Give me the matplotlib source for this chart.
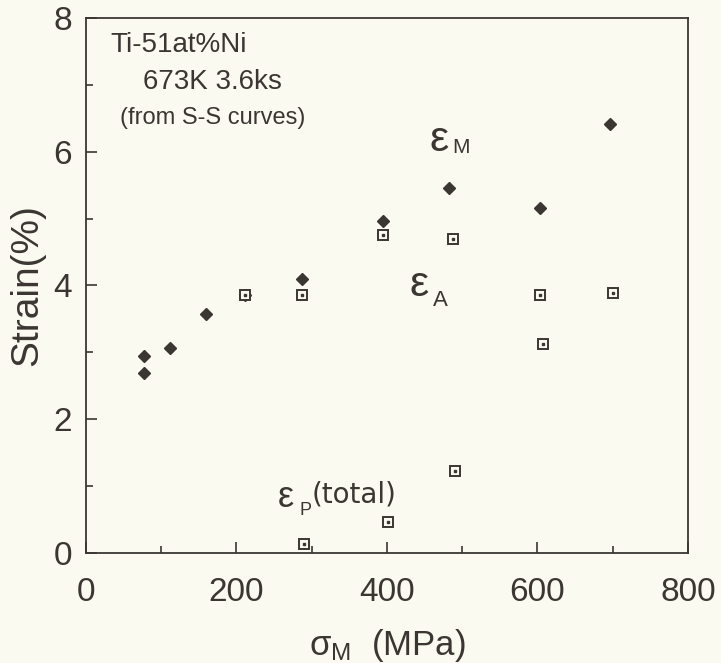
import matplotlib
matplotlib.use('Agg')
import matplotlib.pyplot as plt

plt.rcParams['font.family'] = ['Liberation Sans', 'DejaVu Sans']
plt.rcParams['mathtext.fontset'] = 'custom'
plt.rcParams['mathtext.rm'] = 'Liberation Sans'
plt.rcParams['mathtext.it'] = 'Liberation Sans:italic'

ink = '#3b3632'
paper = '#fbfaf0'

# eps_M (filled diamonds)
m_stress = [77, 77, 111, 159, 212, 287, 395, 483, 603, 696]
m_strain = [2.94, 2.69, 3.07, 3.58, 3.85, 4.10, 4.97, 5.45, 5.16, 6.42]
# eps_A (open squares)
a_stress = [212, 287, 395, 488, 603, 701]
a_strain = [3.85, 3.85, 4.76, 4.69, 3.85, 3.88]
# eps_p total (open squares)
p_stress = [290, 401, 491, 608]
p_strain = [0.13, 0.46, 1.22, 3.13]

xticks = [0, 200, 400, 600, 800]
yticks = [0, 2, 4, 6, 8]

fig = plt.figure(figsize=(7.21, 6.63), dpi=100, facecolor=paper)
ax = fig.add_axes([0.1193, 0.166, 0.8347, 0.807])
ax.set_facecolor(paper)

ax.plot(m_stress, m_strain, ls='none', marker='D', ms=6.5, color=ink)
for xs, ys in [(a_stress, a_strain), (p_stress, p_strain)]:
    ax.plot(xs, ys, ls='none', marker='s', ms=7.5, mfc=paper, mec=ink, mew=1.4)
    ax.plot(xs, ys, ls='none', marker='s', ms=1.6, color=ink)

ax.set_xlim(0, 800)
ax.set_ylim(0, 8)
ax.set_xticks(xticks)
ax.set_yticks(yticks)
ax.set_xticks([100, 300, 500, 700], minor=True)
ax.set_yticks([1, 3, 5, 7], minor=True)
ax.tick_params(which='major', direction='in', length=8, width=1.2, color=ink,
               labelsize=24, labelcolor=ink)
ax.tick_params(which='minor', direction='in', length=5, width=1.2, color=ink)
ax.tick_params(axis='x', pad=17)
ax.tick_params(axis='y', pad=10)
for s in ax.spines.values():
    s.set_color(ink)
    s.set_linewidth(1.3)

ax.set_ylabel('Strain(%)', fontsize=28, color=ink, labelpad=6)
ax.set_xlabel('σ$_{\\mathrm{M}}$  (MPa)', fontsize=25, color=ink, labelpad=14)

ax.text(0.04, 0.95, 'Ti-51at%Ni', transform=ax.transAxes, fontsize=20,
        color=ink, va='center')
ax.text(0.095, 0.88, '673K 3.6ks', transform=ax.transAxes, fontsize=20,
        color=ink, va='center')
ax.text(0.056, 0.813, '(from S-S curves)', transform=ax.transAxes, fontsize=17,
        color=ink, va='center')

ax.text(0.570, 0.772, 'ε', transform=ax.transAxes, fontsize=31, color=ink,
        va='center')
ax.text(0.608, 0.757, 'M', transform=ax.transAxes, fontsize=15, color=ink,
        va='center')
ax.text(0.537, 0.501, 'ε', transform=ax.transAxes, fontsize=31, color=ink,
        va='center')
ax.text(0.576, 0.471, 'A', transform=ax.transAxes, fontsize=16, color=ink,
        va='center')
ax.text(0.318, 0.103, 'ε', transform=ax.transAxes, fontsize=26, color=ink,
        va='center')
ax.text(0.355, 0.079, 'P', transform=ax.transAxes, fontsize=13, color=ink,
        va='center')
ax.text(0.375, 0.110, '(total)', transform=ax.transAxes, fontsize=20,
        family='DejaVu Sans', color=ink, va='center')

fig.savefig('out.png', dpi=100, facecolor=paper)
